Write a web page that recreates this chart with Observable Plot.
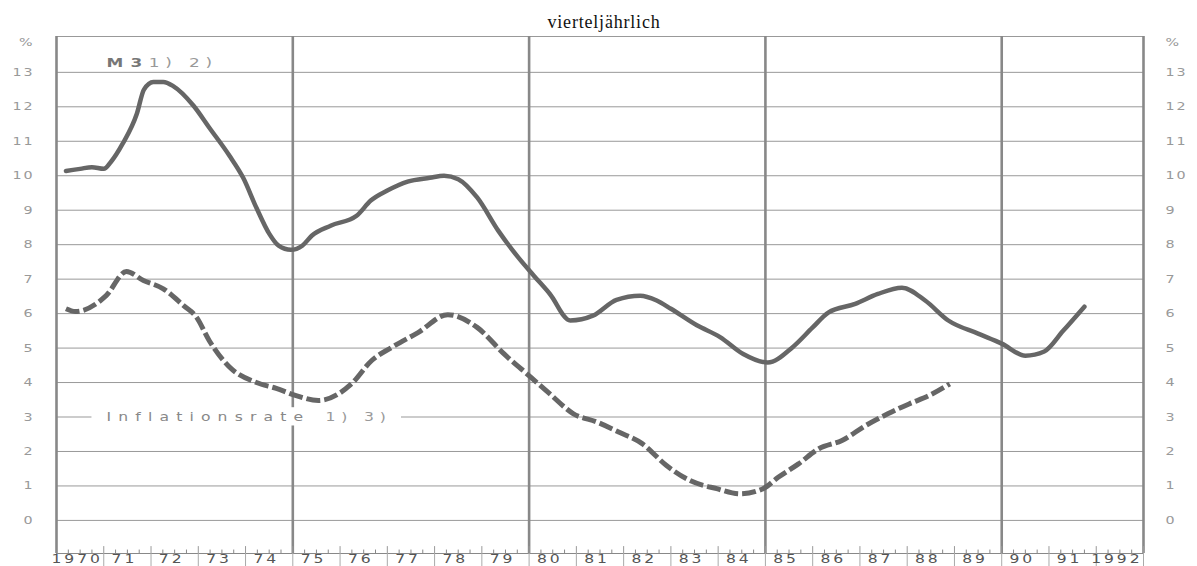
<!DOCTYPE html>
<html>
<head>
<meta charset="utf-8">
<script src="https://cdn.jsdelivr.net/npm/d3@7"></script>
<script src="https://cdn.jsdelivr.net/npm/@observablehq/plot@0.6"></script>
<style>
  body { margin: 0; background: #fff; }
  #wrap { position: relative; width: 1197px; height: 566px; overflow: hidden; }
  #chart svg { display: block; }
  #title { position: absolute; top: 13px; left: 0; width: 1208px; text-align: center;
    font-family: "Liberation Serif", "Times New Roman", serif; font-size: 18px;
    letter-spacing: 0.8px; color: #111; line-height: 18px; }
</style>
</head>
<body>
<div id="wrap">
  <div id="chart"></div>
  <div id="title">vierteljährlich</div>
</div>
<script>
// ---- Data ----
const m3Dates = [1970.2, 1970.5, 1970.75, 1971.0, 1971.15, 1971.4, 1971.7, 1971.85, 1972.05, 1972.26,
  1972.47, 1972.9, 1973.23, 1973.66, 1973.95, 1974.23, 1974.5, 1974.7, 1974.96, 1975.2,
  1975.4, 1975.8, 1976.35, 1976.65, 1977.0, 1977.43, 1977.9, 1978.2, 1978.5, 1978.9,
  1979.35, 1979.77, 1980.1, 1980.44, 1980.87, 1981.35, 1981.85, 1982.35, 1982.7, 1983.0,
  1983.55, 1984.04, 1984.53, 1985.05, 1985.57, 1986.0, 1986.33, 1986.9, 1987.38, 1987.89,
  1988.38, 1988.87, 1989.5, 1990.0, 1990.5, 1990.9, 1991.3, 1991.75];
const m3Values = [10.14, 10.2, 10.25, 10.2, 10.4, 10.93, 11.8, 12.5, 12.72, 12.72,
  12.6, 12.03, 11.4, 10.58, 9.94, 9.07, 8.32, 7.97, 7.85, 7.97,
  8.26, 8.55, 8.84, 9.28, 9.57, 9.83, 9.94, 10.0, 9.9, 9.37,
  8.4, 7.63, 7.1, 6.57, 5.8, 5.94, 6.4, 6.52, 6.38, 6.14,
  5.66, 5.32, 4.83, 4.58, 5.02, 5.6, 6.03, 6.28, 6.57, 6.75,
  6.38, 5.8, 5.42, 5.13, 4.78, 4.9, 5.5, 6.2];

const inflDates = [1970.2, 1970.4, 1971.05, 1971.48, 1971.84, 1972.26, 1972.69, 1972.96, 1973.23, 1973.66,
  1974.23, 1974.65, 1975.07, 1975.54, 1976.24, 1976.67, 1977.08, 1977.65, 1978.28, 1978.9,
  1979.47, 1980.04, 1980.44, 1980.93, 1981.44, 1981.92, 1982.4, 1982.9, 1983.4, 1983.97,
  1984.46, 1984.95, 1985.27, 1985.7, 1986.13, 1986.62, 1987.12, 1987.6, 1988.04, 1988.46, 1988.9];
const inflValues = [6.14, 6.06, 6.52, 7.22, 6.96, 6.72, 6.23, 5.9, 5.22, 4.45,
  4.0, 3.83, 3.62, 3.48, 3.96, 4.64, 5.01, 5.45, 5.97, 5.6,
  4.83, 4.15, 3.67, 3.1, 2.85, 2.55, 2.22, 1.6, 1.16, 0.92,
  0.77, 0.92, 1.25, 1.64, 2.08, 2.32, 2.75, 3.1, 3.38, 3.62, 3.96];

const yearStarts = [1970, 1971, 1972, 1973, 1974, 1975, 1976, 1977, 1978, 1979, 1980,
  1981, 1982, 1983, 1984, 1985, 1986, 1987, 1988, 1989, 1990, 1991, 1992];
const yearLabels = ["1970", "71", "72", "73", "74", "75", "76", "77", "78", "79", "80",
  "81", "82", "83", "84", "85", "86", "87", "88", "89", "90", "91", "1992"];
const majorYears = [1970, 1975, 1980, 1985, 1990, 1993];
const yTicks = [0, 1, 2, 3, 4, 5, 6, 7, 8, 9, 10, 11, 12, 13];
const seriesLabels = ["M3", "Inflationsrate"];
const footnoteLabels = ["1) 2)", "1) 3)"];

// ---- Derived tables ----
const m3 = m3Dates.map((t, i) => ({t, v: m3Values[i]}));
const infl = inflDates.map((t, i) => ({t, v: inflValues[i]}));
const yearBounds = yearStarts.slice(1).concat([1993]);
const yearMids = yearStarts.map(y => y + 0.5);
const quarterTicks = yearStarts.flatMap(y => [y + 0.25, y + 0.5, y + 0.75]);
const yDomain = [-0.96, 14.04];
const pctPos = 13.88;
const gray = "#666";

const chart = Plot.plot({
  width: 1197,
  height: 566,
  marginTop: 36,
  marginBottom: 13,
  marginLeft: 56,
  marginRight: 54,
  x: {domain: [1970, 1993]},
  y: {domain: yDomain},
  style: {fontFamily: "DejaVu Sans", background: "white"},
  marks: [
    Plot.ruleY(yTicks, {stroke: "#999", strokeWidth: 1}),
    Plot.ruleY([yDomain[1]], {stroke: "#999", strokeWidth: 1}),
    Plot.ruleY([yDomain[0]], {stroke: "#888", strokeWidth: 1}),
    Plot.ruleX(majorYears, {stroke: "#888", strokeWidth: 2.6}),
    Plot.ruleX(quarterTicks, {y1: yDomain[0], y2: yDomain[0] + 0.1, stroke: "#888"}),
    Plot.ruleX(yearBounds, {y1: yDomain[0], y2: yDomain[0] + 0.2, stroke: "#999"}),
    Plot.axisX({ticks: yearBounds, tickSize: 13, tickFormat: () => "", color: "#aaa", label: null}),
    Plot.axisX({ticks: yearMids, tickSize: 0, tickPadding: 1, fontSize: 12, color: "#555", label: null,
      dx: -3, tickFormat: d => yearLabels[yearMids.indexOf(d)]}),
    Plot.axisY({anchor: "left", ticks: yTicks.concat([pctPos]), tickSize: 0, tickPadding: 22,
      fontSize: 11, color: "#999", label: null, tickFormat: d => d === pctPos ? "%" : d}),
    Plot.axisY({anchor: "right", ticks: yTicks.concat([pctPos]), tickSize: 0, tickPadding: 22,
      fontSize: 11, color: "#999", label: null, tickFormat: d => d === pctPos ? "%" : d}),
    // white backing behind the inflation label (interrupts the grid like the original)
    Plot.rect([seriesLabels[1]], {x1: 1970.75, x2: 1977.3, y1: 2.74, y2: 3.27, fill: "white"}),
    // series labels
    Plot.text([seriesLabels[0]], {x: 1971.06, y: 13.28, text: d => d, textAnchor: "start",
      fontSize: 13, fontWeight: "bold", fill: "#777"}),
    Plot.text([footnoteLabels[0]], {x: 1971.95, y: 13.28, text: d => d, textAnchor: "start",
      fontSize: 13, fill: "#999"}),
    Plot.text([seriesLabels[1]], {x: 1971.06, y: 3.0, text: d => d, textAnchor: "start",
      fontSize: 12, fill: "#888"}),
    Plot.text([footnoteLabels[1]], {x: 1975.69, y: 3.0, text: d => d, textAnchor: "start",
      fontSize: 12, fill: "#999"}),
    // series lines
    Plot.line(infl, {x: "t", y: "v", stroke: gray, strokeWidth: 5, strokeDasharray: "14,4",
      strokeLinecap: "butt", curve: "monotone-x"}),
    Plot.line(m3, {x: "t", y: "v", stroke: gray, strokeWidth: 4.5, curve: "monotone-x"})
  ]
});

// widen text horizontally to match the scanned look
d3.select(chart).selectAll("text").each(function () {
  const g = this.parentNode;
  const label = g && g.getAttribute ? g.getAttribute("aria-label") : "";
  const t = this.getAttribute("transform");
  if (t) this.setAttribute("transform", t + " scale(1.3,1)");
  let ls = 0;
  if (label === "y-axis tick label") ls = 1.5;
  else if (label === "x-axis tick label") ls = 2.2;
  else if (label === "text") ls = this.textContent.startsWith("1)") ? 4.5 : 5.5;
  this.style.letterSpacing = ls + "px";
});

document.getElementById("chart").appendChild(chart);
</script>
</body>
</html>
